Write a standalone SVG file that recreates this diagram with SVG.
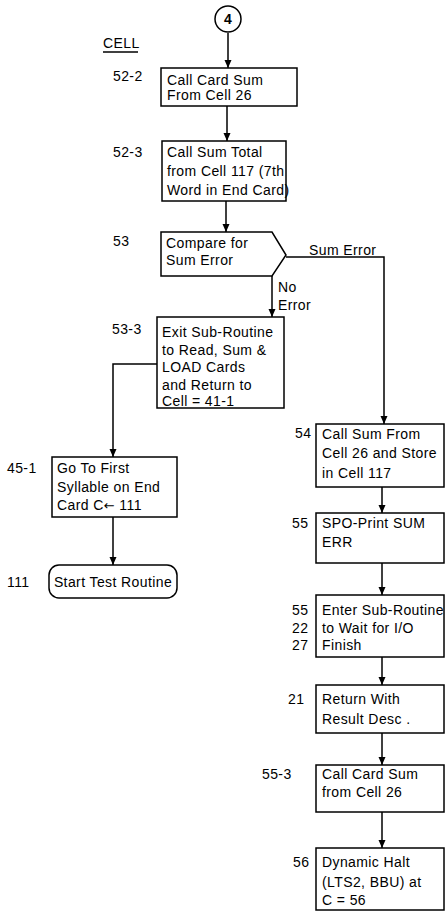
<svg xmlns="http://www.w3.org/2000/svg" width="445" height="911" viewBox="0 0 445 911">
<style>
text{font-family:"Liberation Sans",Arial,sans-serif;font-size:14px;fill:#000;letter-spacing:0.4px}
.b{fill:#fff;stroke:#000;stroke-width:1.5}
.c{fill:none;stroke:#000;stroke-width:1.5}
</style>
<defs>
<marker id="ah" viewBox="0 0 8 10" refX="8" refY="5" markerWidth="8" markerHeight="10" markerUnits="userSpaceOnUse" orient="auto">
<path d="M0,1.5 L8,5 L0,8.5 Z" fill="#000"/>
</marker>
</defs>
<rect width="445" height="911" fill="#fff"/>
<g id="header">
<text x="103" y="48">CELL</text>
<line x1="103" y1="52" x2="138" y2="52" stroke="#000" stroke-width="1.5"/>
</g>
<g id="connectors">
<path class="c" d="M228,33 V68" marker-end="url(#ah)"/>
<path class="c" d="M227,106 V141" marker-end="url(#ah)"/>
<path class="c" d="M226,201 V232" marker-end="url(#ah)"/>
<path class="c" d="M272,276 V317" marker-end="url(#ah)"/>
<path class="c" d="M286,257 H384 V424" marker-end="url(#ah)"/>
<path class="c" d="M157,364 H113 V457" marker-end="url(#ah)"/>
<path class="c" d="M113,517 V565" marker-end="url(#ah)"/>
<path class="c" d="M382,487 V513" marker-end="url(#ah)"/>
<path class="c" d="M382,563 V595" marker-end="url(#ah)"/>
<path class="c" d="M382,657 V685" marker-end="url(#ah)"/>
<path class="c" d="M382,733 V765" marker-end="url(#ah)"/>
<path class="c" d="M382,812 V848" marker-end="url(#ah)"/>
<text x="309" y="255">Sum Error</text>
<text x="278" y="292">No</text>
<text x="278" y="310">Error</text>
</g>
<g id="n4">
<circle cx="228" cy="19" r="13" class="b"/>
<text x="228" y="24" text-anchor="middle" font-weight="bold">4</text>
</g>
<g id="n52-2">
<rect x="161" y="68" width="136" height="38" class="b"/>
<text x="113" y="81">52-2</text>
<text x="167" y="85">Call Card Sum</text>
<text x="167" y="100">From Cell 26</text>
</g>
<g id="n52-3">
<rect x="162" y="141" width="124" height="60" class="b"/>
<text x="113" y="157">52-3</text>
<text x="167" y="157">Call Sum Total</text>
<text x="167" y="176">from Cell 117 (7th</text>
<text x="167" y="195">Word in End Card)</text>
</g>
<g id="n53">
<path d="M161,232 H272 L286,255 L272,276 H161 Z" class="b"/>
<text x="113" y="246">53</text>
<text x="166" y="248">Compare for</text>
<text x="166" y="265">Sum Error</text>
</g>
<g id="n53-3">
<rect x="157" y="317" width="127" height="91" class="b"/>
<text x="112" y="334">53-3</text>
<text x="162" y="337">Exit Sub-Routine</text>
<text x="162" y="355">to Read, Sum &amp;</text>
<text x="162" y="372">LOAD Cards</text>
<text x="162" y="390">and Return to</text>
<text x="162" y="406">Cell = 41-1</text>
</g>
<g id="n45-1">
<rect x="52" y="457" width="125" height="60" class="b"/>
<text x="7" y="473">45-1</text>
<text x="57" y="473">Go To First</text>
<text x="57" y="492">Syllable on End</text>
<text x="57" y="510">Card C<tspan font-family="DejaVu Sans" font-size="13">←</tspan> 111</text>
</g>
<g id="n111">
<rect x="49" y="565" width="128" height="33" rx="10" class="b"/>
<text x="7" y="587">111</text>
<text x="113" y="587" text-anchor="middle">Start Test Routine</text>
</g>
<g id="n54">
<rect x="316" y="424" width="128" height="63" class="b"/>
<text x="295" y="438">54</text>
<text x="322" y="439">Call Sum From</text>
<text x="322" y="458">Cell 26 and Store</text>
<text x="322" y="478">in Cell 117</text>
</g>
<g id="n55">
<rect x="316" y="513" width="128" height="50" class="b"/>
<text x="292" y="528">55</text>
<text x="322" y="528">SPO-Print SUM</text>
<text x="322" y="547">ERR</text>
</g>
<g id="n55-22-27">
<rect x="316" y="595" width="128" height="62" class="b"/>
<text x="292" y="615">55</text>
<text x="292" y="633">22</text>
<text x="292" y="650">27</text>
<text x="322" y="615">Enter Sub-Routine</text>
<text x="322" y="633">to Wait for I/O</text>
<text x="322" y="650">Finish</text>
</g>
<g id="n21">
<rect x="316" y="685" width="128" height="48" class="b"/>
<text x="288" y="704">21</text>
<text x="322" y="704">Return With</text>
<text x="322" y="724">Result Desc .</text>
</g>
<g id="n55-3">
<rect x="316" y="765" width="128" height="47" class="b"/>
<text x="262" y="779">55-3</text>
<text x="322" y="779">Call Card Sum</text>
<text x="322" y="797">from Cell 26</text>
</g>
<g id="n56">
<rect x="316" y="848" width="128" height="62" class="b"/>
<text x="293" y="867">56</text>
<text x="322" y="867">Dynamic Halt</text>
<text x="322" y="887">(LTS2, BBU) at</text>
<text x="322" y="905">C = 56</text>
</g>
</svg>
